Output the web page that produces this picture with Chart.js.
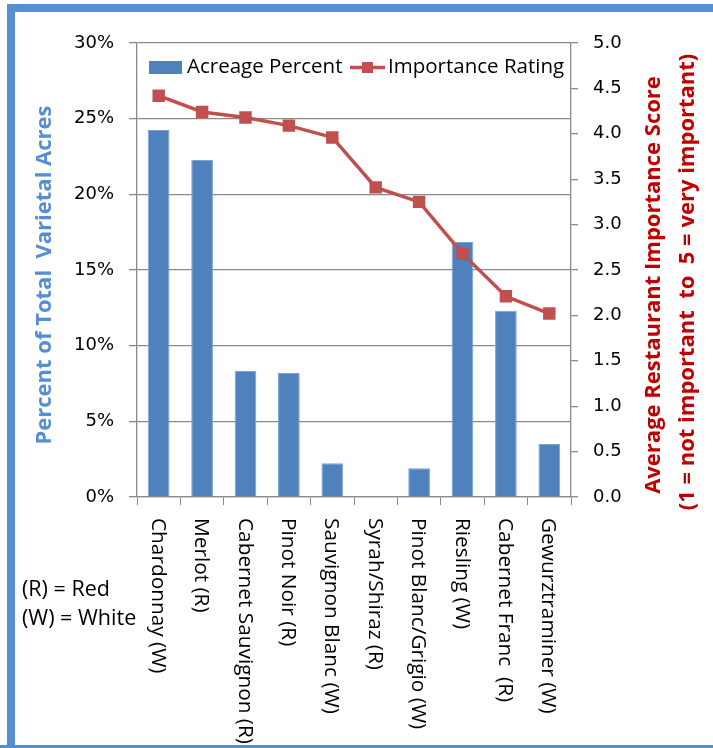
<!DOCTYPE html>
<html>
<head>
<meta charset="utf-8">
<script src="https://cdn.jsdelivr.net/npm/chart.js@4.4.1/dist/chart.umd.min.js"></script>
<style>
  html, body { margin: 0; padding: 0; background: #fff; }
  #wrap { position: relative; width: 713px; height: 748px; }
</style>
</head>
<body>
<div id="wrap"><canvas id="c" width="713" height="748"></canvas></div>
<script>
// Wine varietals, acreage share and restaurant importance rating
const varietals = [
  'Chardonnay (W)', 'Merlot (R)', 'Cabernet Sauvignon (R)', 'Pinot Noir (R)',
  'Sauvignon Blanc (W)', 'Syrah/Shiraz (R)', 'Pinot Blanc/Grigio (W)',
  'Riesling (W)', 'Cabernet Franc  (R)', 'Gewurztraminer (W)'
];
const acreagePercent = [24.25, 22.27, 8.33, 8.2, 2.23, 0, 1.9, 16.85, 12.3, 3.5];
const importanceRating = [4.42, 4.24, 4.18, 4.09, 3.96, 3.41, 3.25, 2.68, 2.21, 2.02];
const percentAxis = { min: 0, max: 30, step: 5 };
const ratingAxis = { min: 0, max: 5, step: 0.5 };
const seriesNames = ['Acreage Percent', 'Importance Rating'];
const leftTitle = 'Percent of Total  Varietal Acres';
const rightTitle = ['Average Restaurant Importance Score', '(1 = not important  to  5 = very important)'];
const notes = ['(R) = Red', '(W) = White'];

const FONT = '"Open Sans", "DejaVu Sans", sans-serif';
const TICK_FONT = '"DejaVu Sans", sans-serif';
const BLUE = '#4F81BD';
const RED = '#C0504D';
const GRID = '#8A8A8A';
const FRAME = '#558ED5';

const decorations = {
  id: 'decorations',
  beforeDraw(chart) {
    const ctx = chart.ctx;
    ctx.save();
    ctx.fillStyle = '#fff';
    ctx.fillRect(0, 0, chart.width, chart.height);
    ctx.fillStyle = FRAME;
    ctx.fillRect(7, 4, 8, chart.height - 4);
    ctx.fillRect(7, 4, chart.width - 7, 8);
    ctx.fillRect(0, chart.height - 3, chart.width, 3);
    ctx.restore();
  },
  afterDraw(chart) {
    const ctx = chart.ctx;
    const area = chart.chartArea;
    const xs = chart.scales.x;
    ctx.save();

    // category labels, reading downward
    ctx.fillStyle = '#000';
    ctx.font = '20.8px ' + FONT;
    ctx.textAlign = 'left';
    ctx.textBaseline = 'middle';
    chart.data.labels.forEach((lab, i) => {
      const x = xs.getPixelForValue(i);
      ctx.save();
      ctx.translate(x - 1, area.bottom + 21);
      ctx.rotate(Math.PI / 2);
      ctx.fillText(lab, 0, 0);
      ctx.restore();
    });

    // left axis title
    const midY = (area.top + area.bottom) / 2;
    ctx.save();
    ctx.fillStyle = '#558ED5';
    ctx.font = 'bold 22px ' + FONT;
    ctx.textAlign = 'center';
    ctx.textBaseline = 'middle';
    ctx.translate(45, midY + 5);
    ctx.rotate(-Math.PI / 2);
    ctx.fillText(leftTitle, 0, 0);
    ctx.restore();

    // right axis title, two lines
    ctx.save();
    ctx.fillStyle = '#C00000';
    ctx.font = 'bold 22px ' + FONT;
    ctx.textAlign = 'center';
    ctx.textBaseline = 'middle';
    [654, 688].forEach((cx, k) => {
      ctx.save();
      ctx.translate(cx, midY + (k === 0 ? 15 : 12));
      ctx.rotate(-Math.PI / 2);
      ctx.fillText(rightTitle[k], 0, 0);
      ctx.restore();
    });
    ctx.restore();

    // legend inside the plot
    const bars = chart.data.datasets.find(d => d.type === 'bar');
    const line = chart.data.datasets.find(d => d.type === 'line');
    ctx.font = '20.5px ' + FONT;
    ctx.textAlign = 'left';
    ctx.textBaseline = 'middle';
    const ly = 67.5;
    ctx.fillStyle = bars.backgroundColor;
    ctx.fillRect(149, 61, 33, 13);
    ctx.fillStyle = '#000';
    ctx.fillText(bars.label, 187, ly);
    ctx.strokeStyle = line.borderColor;
    ctx.lineWidth = 3.5;
    ctx.beginPath();
    ctx.moveTo(350, ly);
    ctx.lineTo(385, ly);
    ctx.stroke();
    ctx.fillStyle = line.borderColor;
    ctx.fillRect(362, ly - 5.5, 11, 11);
    ctx.fillStyle = '#000';
    ctx.fillText(line.label, 388, ly);

    // colour key
    ctx.font = '21.5px ' + FONT;
    ctx.fillText(notes[0], 22, 590);
    ctx.fillText(notes[1], 22, 619);

    ctx.restore();
  }
};

new Chart(document.getElementById('c'), {
  data: {
    labels: varietals,
    datasets: [
      {
        type: 'line',
        label: seriesNames[1],
        data: importanceRating,
        yAxisID: 'y1',
        borderColor: RED,
        backgroundColor: RED,
        borderWidth: 3.5,
        pointStyle: 'rect',
        pointRadius: 8.8,
        pointBackgroundColor: RED,
        pointBorderColor: RED,
        pointBorderWidth: 0,
        tension: 0,
        order: 0
      },
      {
        type: 'bar',
        label: seriesNames[0],
        data: acreagePercent,
        yAxisID: 'y',
        backgroundColor: BLUE,
        borderColor: '#7DA3D1',
        borderWidth: { top: 1, left: 1, right: 1, bottom: 0 },
        categoryPercentage: 1,
        barPercentage: 0.5,
        order: 1
      }
    ]
  },
  options: {
    responsive: false,
    devicePixelRatio: 1,
    animation: false,
    layout: { padding: { top: 43, left: 0, right: 0, bottom: 0 } },
    plugins: {
      legend: { display: false },
      tooltip: { enabled: false }
    },
    scales: {
      x: {
        type: 'category',
        grid: { drawOnChartArea: false, drawTicks: true, tickLength: 8, color: GRID, offset: true },
        border: { color: GRID, width: 1.3 },
        ticks: { display: false },
        afterFit(s) { s.height = 251; }
      },
      y: {
        position: 'left',
        min: percentAxis.min,
        max: percentAxis.max,
        ticks: {
          stepSize: percentAxis.step,
          color: '#000',
          font: { family: TICK_FONT, size: 18 },
          padding: 15,
          callback: v => v + '%'
        },
        grid: { color: GRID, lineWidth: 1.3, tickLength: 8 },
        border: { color: GRID, width: 1.3 },
        afterFit(s) { s.width = 137; }
      },
      y1: {
        position: 'right',
        min: ratingAxis.min,
        max: ratingAxis.max,
        ticks: {
          stepSize: ratingAxis.step,
          color: '#000',
          font: { family: TICK_FONT, size: 18 },
          padding: 15,
          callback: v => v.toFixed(1)
        },
        grid: { drawOnChartArea: false, color: GRID, lineWidth: 1.3, tickLength: 7 },
        border: { color: GRID, width: 1.3 },
        afterFit(s) { s.width = 142; }
      }
    }
  },
  plugins: [decorations]
});
</script>
</body>
</html>
